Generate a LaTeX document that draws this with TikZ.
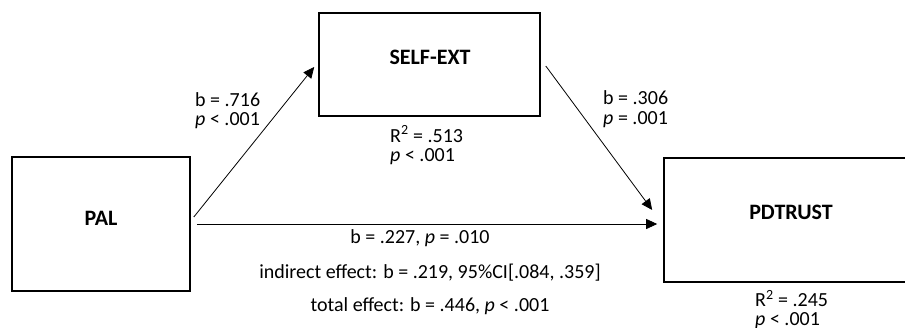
\documentclass[tikz,border=0pt]{standalone}
\usepackage{fontspec}
\setmainfont{Carlito}
\usetikzlibrary{arrows.meta}
\begin{document}
\begin{tikzpicture}[x=1pt,y=-1pt,
  box/.style={draw=black,line width=1.6pt,inner sep=0pt},
  boxtext/.style={font=\fontsize{22}{26}\selectfont\bfseries,inner sep=0pt},
  lbl/.style={font=\fontsize{20}{22}\selectfont,inner sep=0pt},
  arr/.style={draw=black,line width=0.8pt,-{Triangle[length=11pt,width=10pt]}}]
\useasboundingbox (0,0) rectangle (905,327);
\clip (0,0) rectangle (905,327);
% boxes
\node[box,minimum width=221pt,minimum height=103pt] (self) at (429.5,64.5) {};
\node[box,minimum width=178pt,minimum height=134pt] (pal) at (101,224) {};
\node[box,minimum width=254pt,minimum height=124pt] (pdt) at (791,220) {};
\node[boxtext] (selft) at (430,57) {SELF-EXT};
\node[boxtext] (palt) at (101,218) {PAL};
\node[boxtext] (pdtt) at (791,212) {PDTRUST};
% arrows
\draw[arr] ([shift={(3,-7)}]pal.east) -- ([shift={(-4,2.5)}]self.west);
\draw[arr] ([shift={(5,1.5)}]self.east) -- ([shift={(-11,-10)}]pdt.west);
\draw[arr] ([shift={(6,0)}]pal.east) -- ([shift={(-6,4)}]pdt.west);
% labels
\node[lbl,anchor=base west] (a1) at (195,106) {b = .716};
\node[lbl,anchor=base west] (a2) at (195,125) {\textit{p} < .001};
\node[lbl,anchor=base west] (b1) at (603,104) {b = .306};
\node[lbl,anchor=base west] (b2) at (603,124) {\textit{p} = .001};
\node[lbl,anchor=base west] (r1) at (390,142) {R\textsuperscript{2} = .513};
\node[lbl,anchor=base west] (r2) at (390,161) {\textit{p} < .001};
\node[lbl,anchor=base] (c1) at (420,243) {b = .227, \textit{p} = .010};
\node[lbl,anchor=base] (c2) at (430,278) {indirect effect: b = .219, 95\%CI[.084, .359]};
\node[lbl,anchor=base] (c3) at (430,311.7) {total effect: b = .446, \textit{p} < .001};
\node[lbl,anchor=base west] (s1) at (755,306.7) {R\textsuperscript{2} = .245};
\node[lbl,anchor=base west] (s2) at (755,325) {\textit{p} < .001};
\end{tikzpicture}
\end{document}
